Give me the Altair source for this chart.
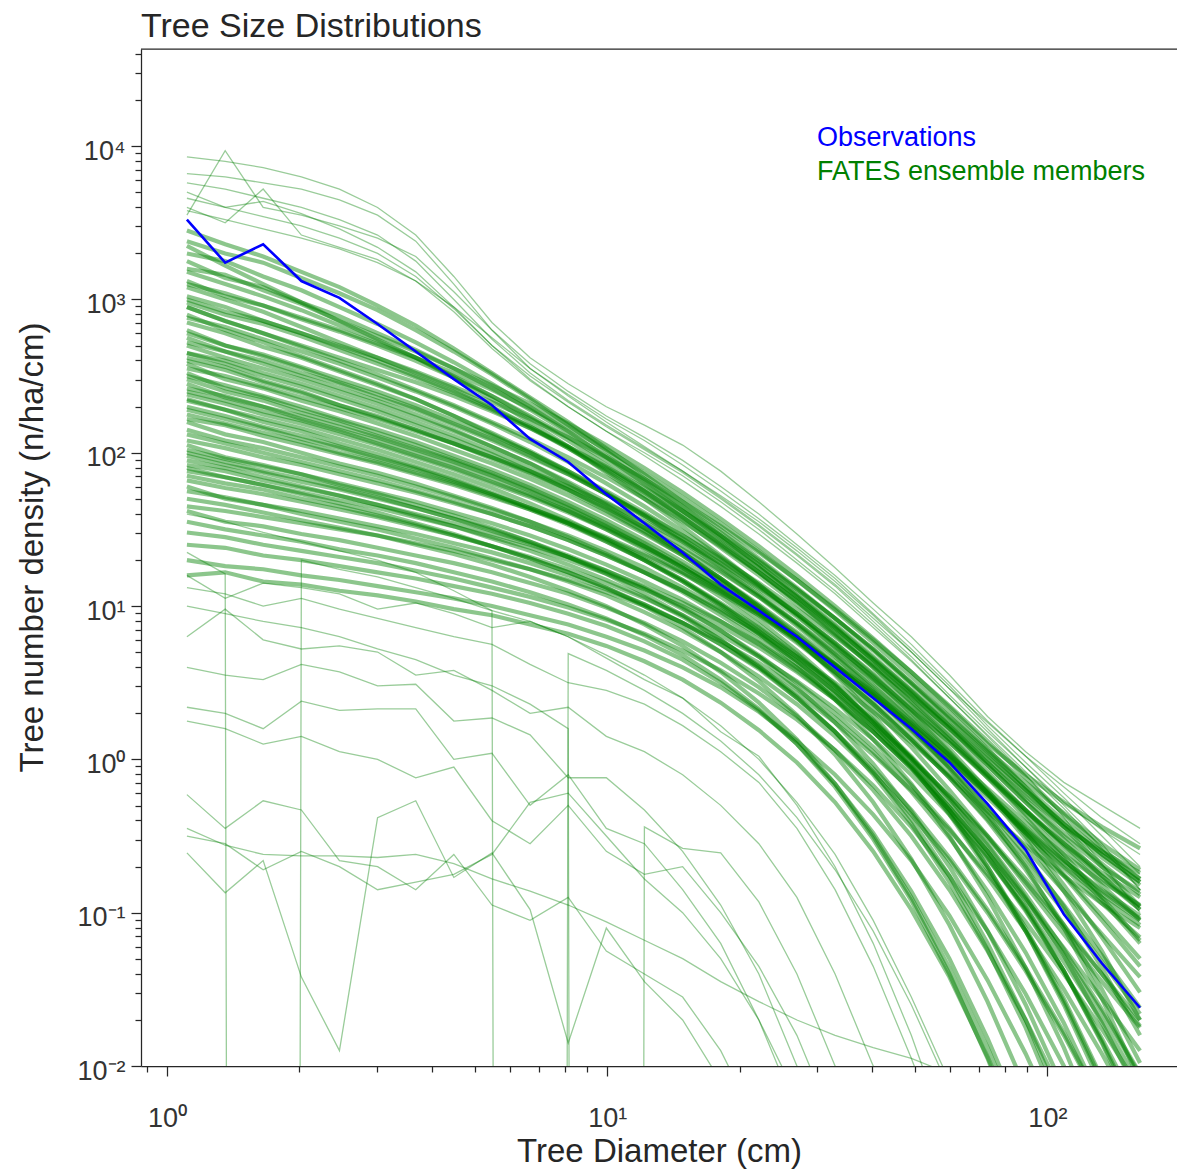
import altair as alt
import pandas as pd

# ---------------- data ----------------
# bin-centre tree diameters (cm)
DIAMETERS = [1.110, 1.356, 1.654, 2.020, 2.465, 3.009, 3.674, 4.484, 5.474, 6.682,
             8.156, 9.956, 12.15, 14.84, 18.11, 22.11, 26.98, 32.94, 40.21, 49.08,
             59.91, 73.13, 89.27, 109.0, 133.0, 162.4]

# observed size distribution, log10(n/ha/cm)
OBS_LOG10 = [3.52, 3.24, 3.36, 3.12, 3.01, 2.84, 2.66, 2.48, 2.31, 2.09,
             1.94, 1.73, 1.54, 1.35, 1.14, 0.97, 0.80, 0.60, 0.40, 0.20,
             -0.02, -0.29, -0.59, -1.01, -1.33, -1.62]

# FATES ensemble members, log10(n/ha/cm); None = zero trees in that bin
FAN_LOG10 = [
    [3.93, 3.90, 3.86, 3.80, 3.72, 3.60, 3.42, 3.15, 2.85, 2.62, 2.45, 2.30, 2.18, 2.05, 1.88, 1.68, 1.47, 1.25, 1.02, 0.80, 0.55, 0.28, 0.05, -0.15, -0.30, -0.45],
    [3.55, 3.97, 3.60, 3.55, 3.48, 3.40, 3.28, 3.05, 2.80, 2.58, 2.40, 2.24, 2.10, 1.95, 1.78, 1.60, 1.40, 1.20, 0.98, 0.75, 0.50, 0.25, 0.02, -0.22, -0.45, -0.70],
    [3.82, 3.80, 3.76, 3.72, 3.65, 3.55, 3.38, 3.10, 2.80, 2.55, 2.38, 2.22, 2.08, 1.92, 1.75, 1.57, 1.38, 1.18, 0.95, 0.72, 0.48, 0.22, -0.02, -0.25, -0.50, -0.75],
    [3.76, 3.72, 3.66, 3.60, 3.52, 3.42, 3.25, 3.00, 2.74, 2.52, 2.34, 2.18, 2.03, 1.88, 1.72, 1.55, 1.36, 1.16, 0.94, 0.70, 0.46, 0.20, -0.05, -0.30, -0.55, -0.85],
    [3.70, 3.60, 3.64, 3.56, 3.46, 3.34, 3.18, 2.95, 2.70, 2.48, 2.30, 2.14, 2.00, 1.85, 1.68, 1.50, 1.30, 1.10, 0.88, 0.65, 0.40, 0.15, -0.10, -0.38, -0.68, -1.00],
    [3.66, 3.60, 3.54, 3.48, 3.40, 3.30, 3.15, 2.94, 2.70, 2.50, 2.33, 2.17, 2.02, 1.87, 1.70, 1.52, 1.33, 1.13, 0.90, 0.67, 0.42, 0.18, -0.05, -0.28, -0.46, -0.62],
    [3.60, 3.50, 3.72, 3.42, 3.34, 3.26, 3.12, 2.92, 2.68, 2.47, 2.30, 2.14, 1.98, 1.82, 1.65, 1.47, 1.28, 1.08, 0.86, 0.64, 0.40, 0.16, -0.08, -0.32, -0.58, -0.85],
    [3.58, 3.52, 3.46, 3.40, 3.33, 3.24, 3.12, 2.95, 2.75, 2.55, 2.37, 2.20, 2.04, 1.88, 1.71, 1.53, 1.34, 1.14, 0.92, 0.70, 0.46, 0.24, 0.02, -0.18, -0.38, -0.55],
]
UPPER_LOG10 = [
    [3.45, 3.36, 3.28, 3.18, 3.08, 2.96, 2.83, 2.68, 2.52, 2.36, 2.20, 2.03, 1.86, 1.68, 1.50, 1.31, 1.12, 0.92, 0.72, 0.50, 0.28, 0.06, -0.15, -0.35, -0.55, -0.72],
    [3.38, 3.30, 3.24, 3.14, 3.04, 2.93, 2.80, 2.66, 2.51, 2.35, 2.18, 2.01, 1.83, 1.65, 1.46, 1.27, 1.07, 0.87, 0.66, 0.45, 0.23, 0.02, -0.20, -0.42, -0.62, -0.80],
    [3.30, 3.25, 3.15, 3.06, 2.95, 2.84, 2.72, 2.59, 2.45, 2.30, 2.14, 1.97, 1.80, 1.62, 1.44, 1.25, 1.06, 0.86, 0.64, 0.42, 0.20, -0.04, -0.28, -0.52, -0.76, -0.98],
    [3.25, 3.14, 3.08, 2.98, 2.89, 2.78, 2.67, 2.55, 2.42, 2.28, 2.13, 1.98, 1.82, 1.65, 1.48, 1.30, 1.11, 0.92, 0.72, 0.50, 0.27, 0.05, -0.18, -0.40, -0.60, -0.78],
    [3.18, 3.10, 3.02, 2.93, 2.83, 2.73, 2.62, 2.50, 2.37, 2.23, 2.08, 1.92, 1.75, 1.58, 1.40, 1.22, 1.03, 0.83, 0.62, 0.40, 0.16, -0.08, -0.33, -0.58, -0.82, -1.05],
    [3.12, 3.02, 2.96, 2.87, 2.79, 2.70, 2.60, 2.49, 2.37, 2.24, 2.10, 1.95, 1.79, 1.62, 1.45, 1.27, 1.08, 0.88, 0.67, 0.45, 0.22, -0.02, -0.26, -0.48, -0.68, -0.88],
    [3.08, 3.00, 2.92, 2.82, 2.72, 2.62, 2.52, 2.42, 2.30, 2.17, 2.03, 1.88, 1.72, 1.56, 1.38, 1.20, 1.01, 0.81, 0.60, 0.38, 0.15, -0.10, -0.36, -0.62, -0.90, -1.18],
    [3.02, 2.95, 2.86, 2.78, 2.69, 2.60, 2.50, 2.40, 2.29, 2.17, 2.04, 1.90, 1.75, 1.59, 1.42, 1.25, 1.06, 0.86, 0.65, 0.43, 0.20, -0.04, -0.28, -0.50, -0.70, -0.86],
    [3.35, 3.22, 3.10, 2.98, 2.86, 2.74, 2.62, 2.49, 2.35, 2.20, 2.04, 1.87, 1.70, 1.52, 1.33, 1.14, 0.94, 0.73, 0.51, 0.28, 0.04, -0.22, -0.48, -0.76, -1.05, -1.35],
    [3.20, 3.16, 3.06, 2.97, 2.86, 2.76, 2.66, 2.55, 2.44, 2.32, 2.19, 2.05, 1.90, 1.74, 1.57, 1.39, 1.20, 1.00, 0.79, 0.57, 0.34, 0.10, -0.10, -0.28, -0.44, -0.58],
    [2.98, 2.90, 2.84, 2.76, 2.67, 2.58, 2.49, 2.39, 2.28, 2.16, 2.03, 1.89, 1.74, 1.58, 1.41, 1.22, 1.03, 0.82, 0.60, 0.37, 0.13, -0.12, -0.38, -0.65, -0.92, -1.20],
    [2.95, 2.86, 2.78, 2.70, 2.62, 2.54, 2.46, 2.37, 2.27, 2.16, 2.04, 1.91, 1.77, 1.62, 1.46, 1.29, 1.11, 0.92, 0.71, 0.49, 0.26, 0.03, -0.20, -0.42, -0.62, -0.80],
]
MID_LOG10 = [
    [2.95, 2.86, 2.78, 2.69, 2.60, 2.51, 2.41, 2.31, 2.20, 2.09, 1.97, 1.84, 1.70, 1.55, 1.39, 1.22, 1.04, 0.85, 0.65, 0.44, 0.22, 0.00, -0.22, -0.44, -0.64, -0.82],
    [2.85, 2.78, 2.69, 2.62, 2.53, 2.44, 2.35, 2.24, 2.13, 2.01, 1.88, 1.74, 1.59, 1.43, 1.26, 1.08, 0.89, 0.69, 0.48, 0.26, 0.03, -0.22, -0.48, -0.75, -1.02, -1.30],
    [2.80, 2.70, 2.63, 2.55, 2.46, 2.38, 2.29, 2.19, 2.09, 1.98, 1.86, 1.73, 1.59, 1.44, 1.28, 1.11, 0.93, 0.74, 0.54, 0.33, 0.11, -0.12, -0.34, -0.55, -0.74, -0.90],
    [2.72, 2.66, 2.58, 2.50, 2.42, 2.34, 2.25, 2.15, 2.04, 1.93, 1.80, 1.66, 1.51, 1.35, 1.18, 1.00, 0.80, 0.59, 0.37, 0.14, -0.10, -0.36, -0.64, -0.95, -1.28, -1.62],
    [2.65, 2.58, 2.50, 2.43, 2.35, 2.27, 2.18, 2.09, 1.99, 1.88, 1.76, 1.63, 1.49, 1.34, 1.18, 1.01, 0.83, 0.64, 0.44, 0.23, 0.01, -0.22, -0.45, -0.66, -0.85, -1.02],
    [2.58, 2.48, 2.42, 2.34, 2.27, 2.19, 2.11, 2.02, 1.93, 1.83, 1.72, 1.60, 1.47, 1.33, 1.17, 1.00, 0.82, 0.62, 0.41, 0.18, -0.06, -0.32, -0.62, -0.96, -1.36, -1.80],
    [2.50, 2.44, 2.37, 2.30, 2.22, 2.15, 2.07, 1.98, 1.89, 1.79, 1.68, 1.56, 1.43, 1.29, 1.14, 0.98, 0.80, 0.61, 0.41, 0.20, -0.02, -0.25, -0.48, -0.70, -0.90, -1.08],
    [2.45, 2.36, 2.30, 2.22, 2.15, 2.08, 2.00, 1.92, 1.83, 1.73, 1.62, 1.50, 1.37, 1.22, 1.06, 0.88, 0.69, 0.48, 0.25, 0.00, -0.28, -0.60, -0.96, -1.38, -1.85, -2.40],
    [2.40, 2.34, 2.27, 2.21, 2.14, 2.06, 1.98, 1.90, 1.81, 1.72, 1.62, 1.51, 1.39, 1.26, 1.12, 0.97, 0.80, 0.62, 0.43, 0.22, 0.00, -0.23, -0.46, -0.68, -0.88, -1.05],
    [2.35, 2.28, 2.20, 2.14, 2.06, 1.99, 1.91, 1.83, 1.74, 1.64, 1.54, 1.42, 1.30, 1.16, 1.01, 0.85, 0.67, 0.47, 0.25, 0.01, -0.26, -0.56, -0.90, -1.28, -1.72, -2.20],
    [2.28, 2.22, 2.16, 2.09, 2.03, 1.96, 1.89, 1.81, 1.73, 1.64, 1.55, 1.45, 1.34, 1.22, 1.09, 0.95, 0.79, 0.62, 0.44, 0.24, 0.03, -0.19, -0.41, -0.62, -0.80, -0.95],
    [2.20, 2.12, 2.07, 2.00, 1.93, 1.87, 1.80, 1.72, 1.64, 1.55, 1.45, 1.34, 1.22, 1.09, 0.94, 0.78, 0.60, 0.40, 0.18, -0.06, -0.33, -0.63, -0.98, -1.38, -1.84, -2.35],
    [2.12, 2.06, 2.00, 1.94, 1.88, 1.82, 1.75, 1.68, 1.60, 1.52, 1.43, 1.33, 1.22, 1.10, 0.97, 0.83, 0.67, 0.50, 0.31, 0.11, -0.11, -0.34, -0.56, -0.76, -0.94, -1.10],
    [2.05, 1.97, 1.92, 1.86, 1.79, 1.73, 1.66, 1.59, 1.51, 1.42, 1.32, 1.21, 1.08, 0.94, 0.78, 0.60, 0.40, 0.18, -0.06, -0.33, -0.64, -0.98, -1.36, -1.78, -2.25, -2.80],
    [2.62, 2.56, 2.47, 2.40, 2.31, 2.24, 2.15, 2.06, 1.96, 1.86, 1.75, 1.62, 1.48, 1.33, 1.16, 0.98, 0.78, 0.56, 0.33, 0.08, -0.20, -0.50, -0.82, -1.14, -1.45, -1.75],
    [2.75, 2.66, 2.60, 2.52, 2.45, 2.36, 2.28, 2.18, 2.08, 1.97, 1.86, 1.73, 1.60, 1.46, 1.31, 1.15, 0.98, 0.80, 0.61, 0.41, 0.20, -0.02, -0.24, -0.44, -0.60, -0.74],
    [2.90, 2.80, 2.72, 2.63, 2.54, 2.45, 2.35, 2.24, 2.12, 2.00, 1.87, 1.73, 1.58, 1.42, 1.25, 1.07, 0.88, 0.68, 0.47, 0.25, 0.02, -0.21, -0.44, -0.66, -0.86, -1.04],
    [2.52, 2.42, 2.36, 2.28, 2.21, 2.13, 2.05, 1.96, 1.87, 1.77, 1.66, 1.54, 1.41, 1.27, 1.12, 0.95, 0.77, 0.57, 0.36, 0.13, -0.12, -0.40, -0.72, -1.08, -1.50, -1.98],
]
CORE_LOG10 = [
    [3.10, 3.04, 2.96, 2.88, 2.80, 2.71, 2.62, 2.52, 2.41, 2.29, 2.16, 2.02, 1.87, 1.71, 1.54, 1.36, 1.17, 0.97, 0.76, 0.54, 0.31, 0.07, -0.18, -0.44, -0.70, -0.96],
    [2.88, 2.82, 2.74, 2.66, 2.58, 2.49, 2.40, 2.30, 2.19, 2.07, 1.94, 1.80, 1.65, 1.49, 1.32, 1.14, 0.95, 0.75, 0.53, 0.30, 0.05, -0.22, -0.52, -0.86, -1.25, -1.70],
    [2.70, 2.62, 2.55, 2.48, 2.40, 2.32, 2.23, 2.14, 2.04, 1.93, 1.81, 1.68, 1.54, 1.39, 1.23, 1.06, 0.87, 0.67, 0.45, 0.21, -0.06, -0.36, -0.70, -1.10, -1.56, -2.10],
    [2.60, 2.54, 2.46, 2.39, 2.31, 2.23, 2.15, 2.06, 1.97, 1.87, 1.76, 1.64, 1.51, 1.37, 1.22, 1.06, 0.89, 0.71, 0.52, 0.32, 0.11, -0.11, -0.33, -0.55, -0.76, -0.96],
    [2.48, 2.40, 2.34, 2.26, 2.19, 2.11, 2.03, 1.95, 1.86, 1.76, 1.65, 1.53, 1.40, 1.25, 1.09, 0.91, 0.71, 0.49, 0.24, -0.04, -0.36, -0.72, -1.12, -1.58, -2.10, -2.70],
    [2.38, 2.32, 2.25, 2.19, 2.12, 2.05, 1.97, 1.89, 1.80, 1.71, 1.61, 1.50, 1.38, 1.25, 1.11, 0.96, 0.79, 0.61, 0.41, 0.19, -0.05, -0.31, -0.58, -0.86, -1.14, -1.42],
    [2.30, 2.24, 2.17, 2.11, 2.04, 1.97, 1.90, 1.82, 1.73, 1.64, 1.54, 1.43, 1.30, 1.16, 1.00, 0.82, 0.62, 0.39, 0.13, -0.16, -0.50, -0.90, -1.36, -1.88, -2.48, -3.15],
    [2.22, 2.18, 2.11, 2.05, 1.99, 1.93, 1.86, 1.79, 1.71, 1.63, 1.54, 1.44, 1.33, 1.21, 1.08, 0.94, 0.78, 0.61, 0.42, 0.22, 0.00, -0.23, -0.47, -0.71, -0.94, -1.16],
    [2.15, 2.08, 2.03, 1.97, 1.91, 1.85, 1.78, 1.71, 1.63, 1.55, 1.46, 1.36, 1.25, 1.12, 0.98, 0.82, 0.64, 0.44, 0.21, -0.05, -0.35, -0.70, -1.10, -1.56, -2.08, -2.66],
    [2.08, 2.03, 1.97, 1.92, 1.86, 1.80, 1.74, 1.67, 1.60, 1.52, 1.43, 1.33, 1.22, 1.10, 0.96, 0.81, 0.64, 0.45, 0.24, 0.01, -0.24, -0.51, -0.80, -1.10, -1.40, -1.70],
    [1.98, 1.92, 1.87, 1.81, 1.76, 1.70, 1.64, 1.57, 1.50, 1.42, 1.33, 1.23, 1.12, 0.99, 0.84, 0.67, 0.47, 0.24, -0.03, -0.34, -0.70, -1.12, -1.60, -2.15, -2.78, -3.50],
    [1.88, 1.84, 1.79, 1.74, 1.69, 1.64, 1.58, 1.52, 1.45, 1.38, 1.30, 1.21, 1.11, 1.00, 0.87, 0.73, 0.57, 0.39, 0.18, -0.06, -0.33, -0.64, -0.99, -1.38, -1.82, -2.30],
    [1.75, 1.71, 1.66, 1.62, 1.57, 1.52, 1.47, 1.41, 1.35, 1.28, 1.20, 1.11, 1.01, 0.89, 0.75, 0.59, 0.40, 0.18, -0.08, -0.39, -0.76, -1.20, -1.70, -2.28, -2.94, -3.70],
    [1.65, 1.62, 1.58, 1.54, 1.50, 1.46, 1.41, 1.36, 1.30, 1.24, 1.17, 1.09, 1.00, 0.89, 0.77, 0.63, 0.46, 0.27, 0.05, -0.21, -0.51, -0.86, -1.26, -1.72, -2.24, -2.82],
    [3.00, 2.92, 2.86, 2.78, 2.70, 2.62, 2.53, 2.43, 2.33, 2.22, 2.10, 1.97, 1.83, 1.68, 1.52, 1.35, 1.17, 0.98, 0.78, 0.57, 0.35, 0.12, -0.12, -0.36, -0.58, -0.78],
    [2.78, 2.70, 2.64, 2.56, 2.48, 2.40, 2.31, 2.21, 2.11, 2.00, 1.88, 1.75, 1.61, 1.46, 1.30, 1.13, 0.95, 0.76, 0.56, 0.35, 0.13, -0.10, -0.33, -0.56, -0.78, -0.98],
    [2.55, 2.50, 2.43, 2.36, 2.29, 2.22, 2.14, 2.06, 1.97, 1.88, 1.78, 1.67, 1.55, 1.42, 1.28, 1.12, 0.95, 0.76, 0.55, 0.32, 0.07, -0.20, -0.50, -0.82, -1.16, -1.52],
    [2.42, 2.37, 2.30, 2.24, 2.17, 2.10, 2.02, 1.94, 1.85, 1.75, 1.64, 1.52, 1.39, 1.25, 1.10, 0.94, 0.76, 0.57, 0.36, 0.13, -0.12, -0.39, -0.68, -0.99, -1.32, -1.66],
    [2.25, 2.19, 2.13, 2.07, 2.00, 1.94, 1.87, 1.80, 1.72, 1.63, 1.53, 1.42, 1.30, 1.17, 1.02, 0.86, 0.68, 0.48, 0.26, 0.02, -0.25, -0.55, -0.88, -1.24, -1.63, -2.05],
    [2.02, 1.96, 1.91, 1.86, 1.80, 1.74, 1.68, 1.61, 1.54, 1.46, 1.37, 1.27, 1.16, 1.04, 0.90, 0.75, 0.58, 0.39, 0.18, -0.05, -0.31, -0.60, -0.92, -1.27, -1.65, -2.06],
    [1.92, 1.88, 1.82, 1.77, 1.72, 1.66, 1.60, 1.54, 1.47, 1.40, 1.32, 1.23, 1.13, 1.02, 0.90, 0.76, 0.60, 0.42, 0.22, 0.00, -0.24, -0.50, -0.78, -1.08, -1.40, -1.74],
    [2.65, 2.60, 2.52, 2.45, 2.37, 2.29, 2.20, 2.11, 2.01, 1.90, 1.78, 1.65, 1.51, 1.35, 1.18, 0.99, 0.78, 0.55, 0.29, 0.00, -0.33, -0.70, -1.12, -1.60, -2.14, -2.74],
    [2.34, 2.28, 2.22, 2.16, 2.09, 2.02, 1.94, 1.86, 1.77, 1.67, 1.56, 1.44, 1.31, 1.17, 1.01, 0.84, 0.65, 0.44, 0.21, -0.04, -0.31, -0.60, -0.91, -1.23, -1.56, -1.90],
    [1.82, 1.77, 1.73, 1.68, 1.63, 1.58, 1.52, 1.46, 1.39, 1.32, 1.24, 1.15, 1.05, 0.94, 0.81, 0.67, 0.51, 0.33, 0.13, -0.10, -0.36, -0.65, -0.97, -1.32, -1.70, -2.12],
]
LOW_LOG10 = [
    [1.95, 1.90, 1.84, 1.78, 1.72, 1.66, 1.59, 1.52, 1.44, 1.36, 1.27, 1.17, 1.06, 0.93, 0.78, 0.61, 0.41, 0.18, -0.10, -0.42, -0.80, -1.24, -1.75, -2.35, -3.00, -3.70],
    [1.85, 1.80, 1.76, 1.70, 1.65, 1.59, 1.53, 1.46, 1.39, 1.31, 1.22, 1.12, 1.00, 0.86, 0.70, 0.51, 0.29, 0.03, -0.28, -0.65, -1.08, -1.58, -2.15, -2.80, -3.50, -4.20],
    [1.78, 1.70, 1.66, 1.60, 1.55, 1.50, 1.44, 1.38, 1.31, 1.24, 1.16, 1.07, 0.96, 0.84, 0.70, 0.54, 0.36, 0.15, -0.09, -0.36, -0.66, -1.00, -1.38, -1.80, -2.26, -2.76],
    [1.70, 1.66, 1.61, 1.56, 1.51, 1.46, 1.40, 1.34, 1.27, 1.19, 1.10, 1.00, 0.88, 0.74, 0.57, 0.37, 0.13, -0.16, -0.50, -0.90, -1.36, -1.88, -2.46, -3.10, -3.80, -4.50],
    [1.62, 1.55, 1.52, 1.47, 1.43, 1.38, 1.33, 1.28, 1.22, 1.15, 1.08, 0.99, 0.89, 0.77, 0.63, 0.47, 0.28, 0.06, -0.20, -0.50, -0.85, -1.25, -1.70, -2.20, -2.75, -3.35],
    [1.55, 1.50, 1.46, 1.42, 1.37, 1.33, 1.28, 1.22, 1.16, 1.09, 1.01, 0.92, 0.81, 0.68, 0.52, 0.33, 0.10, -0.18, -0.52, -0.92, -1.40, -1.95, -2.58, -3.30, -4.10, -5.00],
    [1.48, 1.45, 1.40, 1.36, 1.32, 1.28, 1.23, 1.18, 1.12, 1.06, 0.99, 0.91, 0.82, 0.71, 0.58, 0.43, 0.26, 0.06, -0.17, -0.44, -0.76, -1.12, -1.53, -2.00, -2.52, -3.10],
    [1.40, 1.38, 1.33, 1.30, 1.26, 1.22, 1.18, 1.13, 1.08, 1.02, 0.95, 0.87, 0.77, 0.65, 0.50, 0.32, 0.10, -0.16, -0.48, -0.86, -1.30, -1.82, -2.40, -3.05, -3.80, -4.60],
    [1.30, 1.26, 1.24, 1.20, 1.17, 1.13, 1.09, 1.05, 1.00, 0.94, 0.88, 0.80, 0.71, 0.60, 0.47, 0.31, 0.12, -0.10, -0.36, -0.66, -1.02, -1.44, -1.92, -2.46, -3.06, -3.72],
    [1.20, 1.22, 1.16, 1.14, 1.10, 1.07, 1.03, 0.98, 0.94, 0.88, 0.82, 0.74, 0.64, 0.52, 0.37, 0.19, -0.02, -0.28, -0.60, -0.98, -1.42, -1.94, -2.52, -3.20, -3.90, -4.70],
    [1.90, 1.84, 1.79, 1.73, 1.67, 1.61, 1.54, 1.47, 1.39, 1.31, 1.22, 1.12, 1.01, 0.89, 0.75, 0.60, 0.43, 0.24, 0.03, -0.20, -0.46, -0.75, -1.06, -1.40, -1.76, -2.15],
    [2.00, 1.94, 1.88, 1.83, 1.77, 1.71, 1.64, 1.57, 1.49, 1.41, 1.32, 1.22, 1.11, 0.98, 0.84, 0.68, 0.50, 0.30, 0.08, -0.17, -0.45, -0.77, -1.12, -1.50, -1.92, -2.38],
]
SPARSE_LOG10 = [
    [1.20, 1.05, 1.15, 1.12, 1.08, 0.98, 1.02, 0.95, 0.86, 0.90, 0.80, 0.66, 0.52, 0.40, 0.18, 0.02, -0.30, -0.70, -1.20, -1.80, -2.50, -3.20, -4.00, -4.80, -5.60, -6.40],
    [0.80, 0.98, 0.78, 0.72, 0.74, 0.70, 0.55, 0.58, 0.45, 0.30, 0.34, 0.15, 0.05, -0.10, -0.30, -0.55, -0.90, -1.40, -2.00, -2.70, -3.40, -4.10, -4.80, -5.50, -6.20, -6.90],
    [0.60, 0.55, 0.52, 0.62, 0.57, 0.48, 0.49, 0.25, 0.27, 0.16, -0.12, -0.12, -0.33, -0.60, -0.95, -1.40, -2.00, -2.70, -3.40, -4.10, -4.80, -5.50, -6.20, -6.90, -7.60, -8.30],
    [0.34, 0.30, 0.20, 0.38, 0.32, 0.33, 0.33, 0.00, 0.04, -0.30, -0.10, -0.45, -0.55, -0.85, -1.20, -1.70, -2.30, -3.00, -3.70, -4.40, -5.10, -5.80, -6.50, -7.20, -7.90, -8.60],
    [0.25, 0.20, 0.10, 0.15, 0.05, 0.00, -0.12, -0.05, -0.40, -0.55, -0.30, -0.60, -0.75, -0.70, -1.00, -1.35, -1.80, -2.40, -3.00, -3.60, -4.20, -4.80, -5.40, -6.00, -6.60, -7.20],
    [1.12, 1.08, 1.00, 1.05, 0.98, 0.92, 0.86, 0.80, 0.75, 0.62, 0.50, 0.45, 0.36, 0.22, 0.05, -0.15, -0.45, -0.85, -1.35, -1.95, -2.60, -3.30, -4.00, -4.70, -5.40, -6.10],
]
OUTLIER_LOG10 = [
    [-0.23, -0.45, -0.27, -0.33, -0.66, -0.70, -0.85, -0.62, -0.95, -1.05, -0.90, -1.25, -1.40, -1.55, -1.90, -2.40, -3.00, -3.60, -4.20, -4.80, -5.40, -6.00, -6.60, -7.20, -7.80, -8.40],
    [-0.45, -0.56, -0.62, -0.63, -0.63, -0.64, -0.62, -0.68, -0.78, -0.86, -0.95, -1.06, -1.18, -1.30, -1.45, -1.58, -1.70, -1.80, -1.88, -1.95, -2.05, -2.20, -2.40, -2.70, -3.00, -3.30],
    [-0.61, -0.87, -0.66, -1.42, -1.90, -0.38, -0.27, -0.77, -0.61, -0.98, -1.85, -1.10, -1.45, -1.70, -2.10, -2.60, -3.20, -3.80, -4.40, -5.00, -5.60, -6.20, -6.80, -7.40, -8.00, -8.60],
    [-0.50, -0.55, -0.72, -0.60, -0.70, -0.85, -0.80, -0.75, -0.62, -0.28, -0.22, -0.50, -0.78, -1.00, -1.30, -1.70, -2.20, -2.80, -3.40, -4.00, -4.60, -5.20, -5.80, -6.40, -7.00, -7.60],
]
GAP_LOG10 = [
    [1.35, 1.21, None, 1.30, 1.24, 1.19, 1.12, 1.05, 0.97, 0.90, 0.80, 0.68, 0.55, 0.40, 0.22, 0.00, -0.28, -0.62, -1.05, -1.55, -2.10, -2.70, -3.30, -3.90, -4.50, -5.10],
    [1.60, 1.55, 1.48, 1.42, 1.36, 1.30, 1.22, 1.10, 0.97, None, 0.69, 0.58, 0.45, 0.30, 0.12, -0.10, -0.38, -0.72, -1.12, -1.60, -2.15, -2.75, -3.40, -4.10, -4.80, -5.50],
    [1.00, 0.95, 0.90, 0.86, 0.80, 0.72, 0.65, 0.55, 0.48, 0.36, 0.20, None, -0.44, -0.58, -0.61, -0.93, -1.40, -2.00, -2.60, -3.20, -3.80, -4.40, -5.00, -5.60, -6.20, -6.80],
]

TITLE = "Tree Size Distributions"
X_TITLE = "Tree Diameter (cm)"
Y_TITLE = "Tree number density (n/ha/cm)"
LEGEND_LABELS = ["Observations", "FATES ensemble members"]
LEGEND_COLORS = ["#0000ff", "#008000"]
SUPERSCRIPTS = {-2: "⁻²", -1: "⁻¹", 0: "⁰", 1: "¹", 2: "²", 3: "³", 4: "⁴"}

# ---------------- build tables ----------------
FLOOR = 1e-100  # zero counts are clipped far below the axis, as a log plot does


def to_rows(name, logs):
    if len(logs) != len(DIAMETERS):
        raise ValueError(name)
    rows = []
    for d, v in zip(DIAMETERS, logs):
        n = 0.0 if v is None else 10 ** v
        rows.append({"member": name, "diameter": d, "density": max(n, FLOOR)})
    return rows


def members(groups, prefix):
    rows = []
    k = 0
    for group in groups:
        for member in group:
            rows += to_rows(f"{prefix}{k:03d}", member)
            k += 1
    return pd.DataFrame(rows)


core_df = members((UPPER_LOG10, MID_LOG10, CORE_LOG10, LOW_LOG10), "c")
thin_df = members((FAN_LOG10, SPARSE_LOG10, OUTLIER_LOG10, GAP_LOG10), "t")
obs_df = pd.DataFrame(to_rows("obs", OBS_LOG10))

# ---------------- axes / scales ----------------
W, H = 1036, 1017
FONT = "Liberation Sans"
INK = "#262626"

MAJOR_TEST = "abs(log(datum.value)/LN10 - round(log(datum.value)/LN10)) < 0.001"


def label_expr(exps):
    expr = "''"
    for e in exps:
        expr = (f"abs(log(datum.value)/LN10 - ({e})) < 0.001 ? '10{SUPERSCRIPTS[e]}' : " + expr)
    return expr


Y_TICKS = [m * 10 ** e for e in range(-2, 5) for m in range(1, 10)] + [2e4, 3e4, 4e4]
X_TICKS = [0.9] + [m * 10 ** e for e in (0, 1) for m in range(1, 10)] + [100]

xscale = alt.Scale(type="log", domain=[0.873, 197], nice=False)
yscale = alt.Scale(type="log", domain=[0.01, 43000], nice=False)

tick_size = {"condition": {"test": MAJOR_TEST, "value": 10}, "value": 6}

xaxis = alt.Axis(
    values=X_TICKS, labelExpr=label_expr([0, 1, 2]), labelOverlap=False, labelFlush=False,
    tickSize=tick_size, tickWidth=1.25, tickColor=INK, domainColor=INK, domainWidth=1.25,
    grid=False, labelFont=FONT, labelFontSize=27, labelColor="#333333",
    labelBaseline="alphabetic", labelPadding=50,
    title=X_TITLE, titleFont=FONT, titleFontSize=33, titleFontWeight="normal",
    titleColor=INK, titleY=95, titleBaseline="alphabetic",
)
yaxis = alt.Axis(
    values=Y_TICKS, labelExpr=label_expr([-2, -1, 0, 1, 2, 3, 4]), labelOverlap=False,
    labelFlush=False, tickSize=tick_size, tickWidth=1.25, tickColor=INK, domainColor=INK,
    domainWidth=1.25, grid=False, labelFont=FONT, labelFontSize=27, labelColor="#333333",
    labelBaseline="middle", labelAlign="right", labelPadding=6, labelOffset=5,
    title=Y_TITLE, titleFont=FONT, titleFontSize=33, titleFontWeight="normal",
    titleColor=INK, titleX=-99, titleY=498, titleAngle=270, titleBaseline="alphabetic",
    titleAlign="center",
)

core_lines = alt.Chart(core_df).mark_line(
    color="#008000", strokeWidth=4.2, opacity=0.45, clip=True
).encode(
    x=alt.X("diameter:Q", scale=xscale, axis=xaxis),
    y=alt.Y("density:Q", scale=yscale, axis=yaxis),
    detail="member:N",
)

thin_lines = alt.Chart(thin_df).mark_line(
    color="#008000", strokeWidth=1.3, opacity=0.4, clip=True
).encode(
    x=alt.X("diameter:Q", scale=xscale),
    y=alt.Y("density:Q", scale=yscale),
    detail="member:N",
)

observed = alt.Chart(obs_df).mark_line(color="#0000ff", strokeWidth=2.6, clip=True).encode(
    x=alt.X("diameter:Q", scale=xscale),
    y=alt.Y("density:Q", scale=yscale),
)

frame_top = alt.Chart(pd.DataFrame({"k": [0]})).mark_rule(color=INK, strokeWidth=1.25).encode(
    x=alt.value(0), x2=alt.value(W), y=alt.value(0)
)

title_text = alt.Chart(pd.DataFrame({"t": [TITLE]})).mark_text(
    align="left", baseline="alphabetic", font=FONT, fontSize=34, color=INK
).encode(text="t:N", x=alt.value(0), y=alt.value(-12))

legend_obs = alt.Chart(pd.DataFrame({"t": [LEGEND_LABELS[0]]})).mark_text(
    align="left", baseline="middle", font=FONT, fontSize=27, color=LEGEND_COLORS[0]
).encode(text="t:N", x=alt.value(676), y=alt.value(89))

legend_ens = alt.Chart(pd.DataFrame({"t": [LEGEND_LABELS[1]]})).mark_text(
    align="left", baseline="middle", font=FONT, fontSize=27, color=LEGEND_COLORS[1]
).encode(text="t:N", x=alt.value(676), y=alt.value(123))

chart = alt.layer(
    core_lines, thin_lines, observed, frame_top, title_text, legend_obs, legend_ens
).properties(
    width=W,
    height=H,
    autosize=alt.AutoSizeParams(type="none"),
    padding={"left": 133, "top": 41, "right": 0, "bottom": 106},
).configure_view(stroke=None)

chart.save("out.html", embed_options={"renderer": "svg", "actions": False})
